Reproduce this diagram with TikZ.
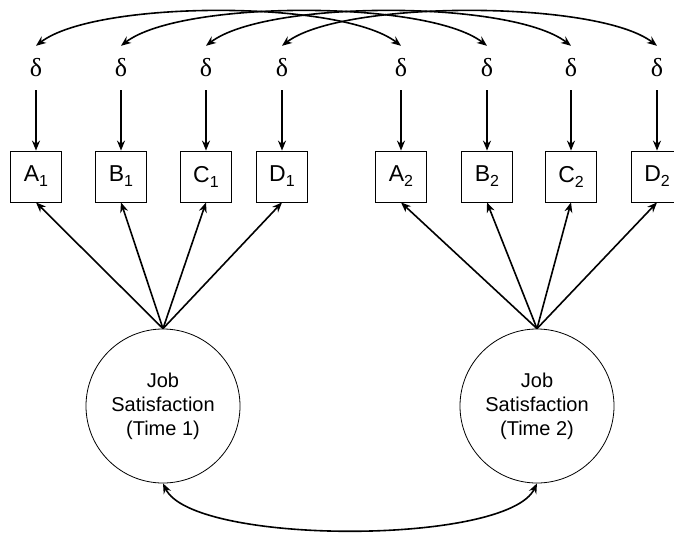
\documentclass[tikz,border=0pt]{standalone}
\usepackage{fontspec}
\setmainfont{Liberation Sans}
\newfontfamily\serifd{Liberation Serif}
\usetikzlibrary{arrows.meta}
\newcommand{\ind}[2]{{\fontsize{23}{26}\selectfont #1}{\fontsize{16}{16}\selectfont\raisebox{-5pt}{#2}}}
\begin{document}
\begin{tikzpicture}[x=1pt,y=-1pt,
  arr/.style={line width=1.6pt,-{Stealth[length=10pt,width=8pt]}},
  darr/.style={line width=1.6pt,{Stealth[length=10pt,width=8pt]}-{Stealth[length=10pt,width=8pt]}},
  dlt/.style={inner sep=0pt,minimum height=44pt,minimum width=20pt,font=\serifd\fontsize{26}{28}\selectfont},
  ind/.style={draw,line width=0.8pt,minimum size=51pt,inner sep=0pt},
  lat/.style={draw,circle,line width=0.8pt,minimum size=154pt,inner sep=0pt,align=center,font=\fontsize{20}{24}\selectfont}]
\useasboundingbox (0,0) rectangle (674,539);
% deltas
\foreach \n/\x in {A1/36,B1/121,C1/206,D1/282,A2/401,B2/487,C2/571,D2/657}{
  \node[dlt] (d\n) at (\x,68) {δ};
}
% boxes
\node[ind] (A1) at (36,176.5) {\ind{A}{1}};
\node[ind] (B1) at (121,176.5) {\ind{B}{1}};
\node[ind] (C1) at (206,176.5) {\ind{C}{1}};
\node[ind] (D1) at (282,176.5) {\ind{D}{1}};
\node[ind] (A2) at (401,176.5) {\ind{A}{2}};
\node[ind] (B2) at (487,176.5) {\ind{B}{2}};
\node[ind] (C2) at (571,176.5) {\ind{C}{2}};
\node[ind] (D2) at (657,176.5) {\ind{D}{2}};
% latent
\node[lat] (L1) at (163,406) {Job\\Satisfaction\\(Time 1)};
\node[lat] (L2) at (537,406) {Job\\Satisfaction\\(Time 2)};
% delta to box
\foreach \n in {A1,B1,C1,D1,A2,B2,C2,D2}{
  \draw[arr] (d\n.south) -- (\n.north);
}
% loadings
\foreach \n in {A1,B1,C1,D1}{ \draw[arr] (L1.north) -- (\n.south); }
\foreach \n in {A2,B2,C2,D2}{ \draw[arr] (L2.north) -- (\n.south); }
% correlated errors
\foreach \a/\b in {A1/A2,B1/B2,C1/C2,D1/D2}{
  \draw[darr] (d\a.north) .. controls ([shift={(60,-46)}]d\a.north) and ([shift={(-60,-46)}]d\b.north) .. (d\b.north);
}
% latent covariance
\draw[darr] (L1.south) .. controls ([shift={(30,62)}]L1.south) and ([shift={(-30,62)}]L2.south) .. (L2.south);
\end{tikzpicture}
\end{document}
